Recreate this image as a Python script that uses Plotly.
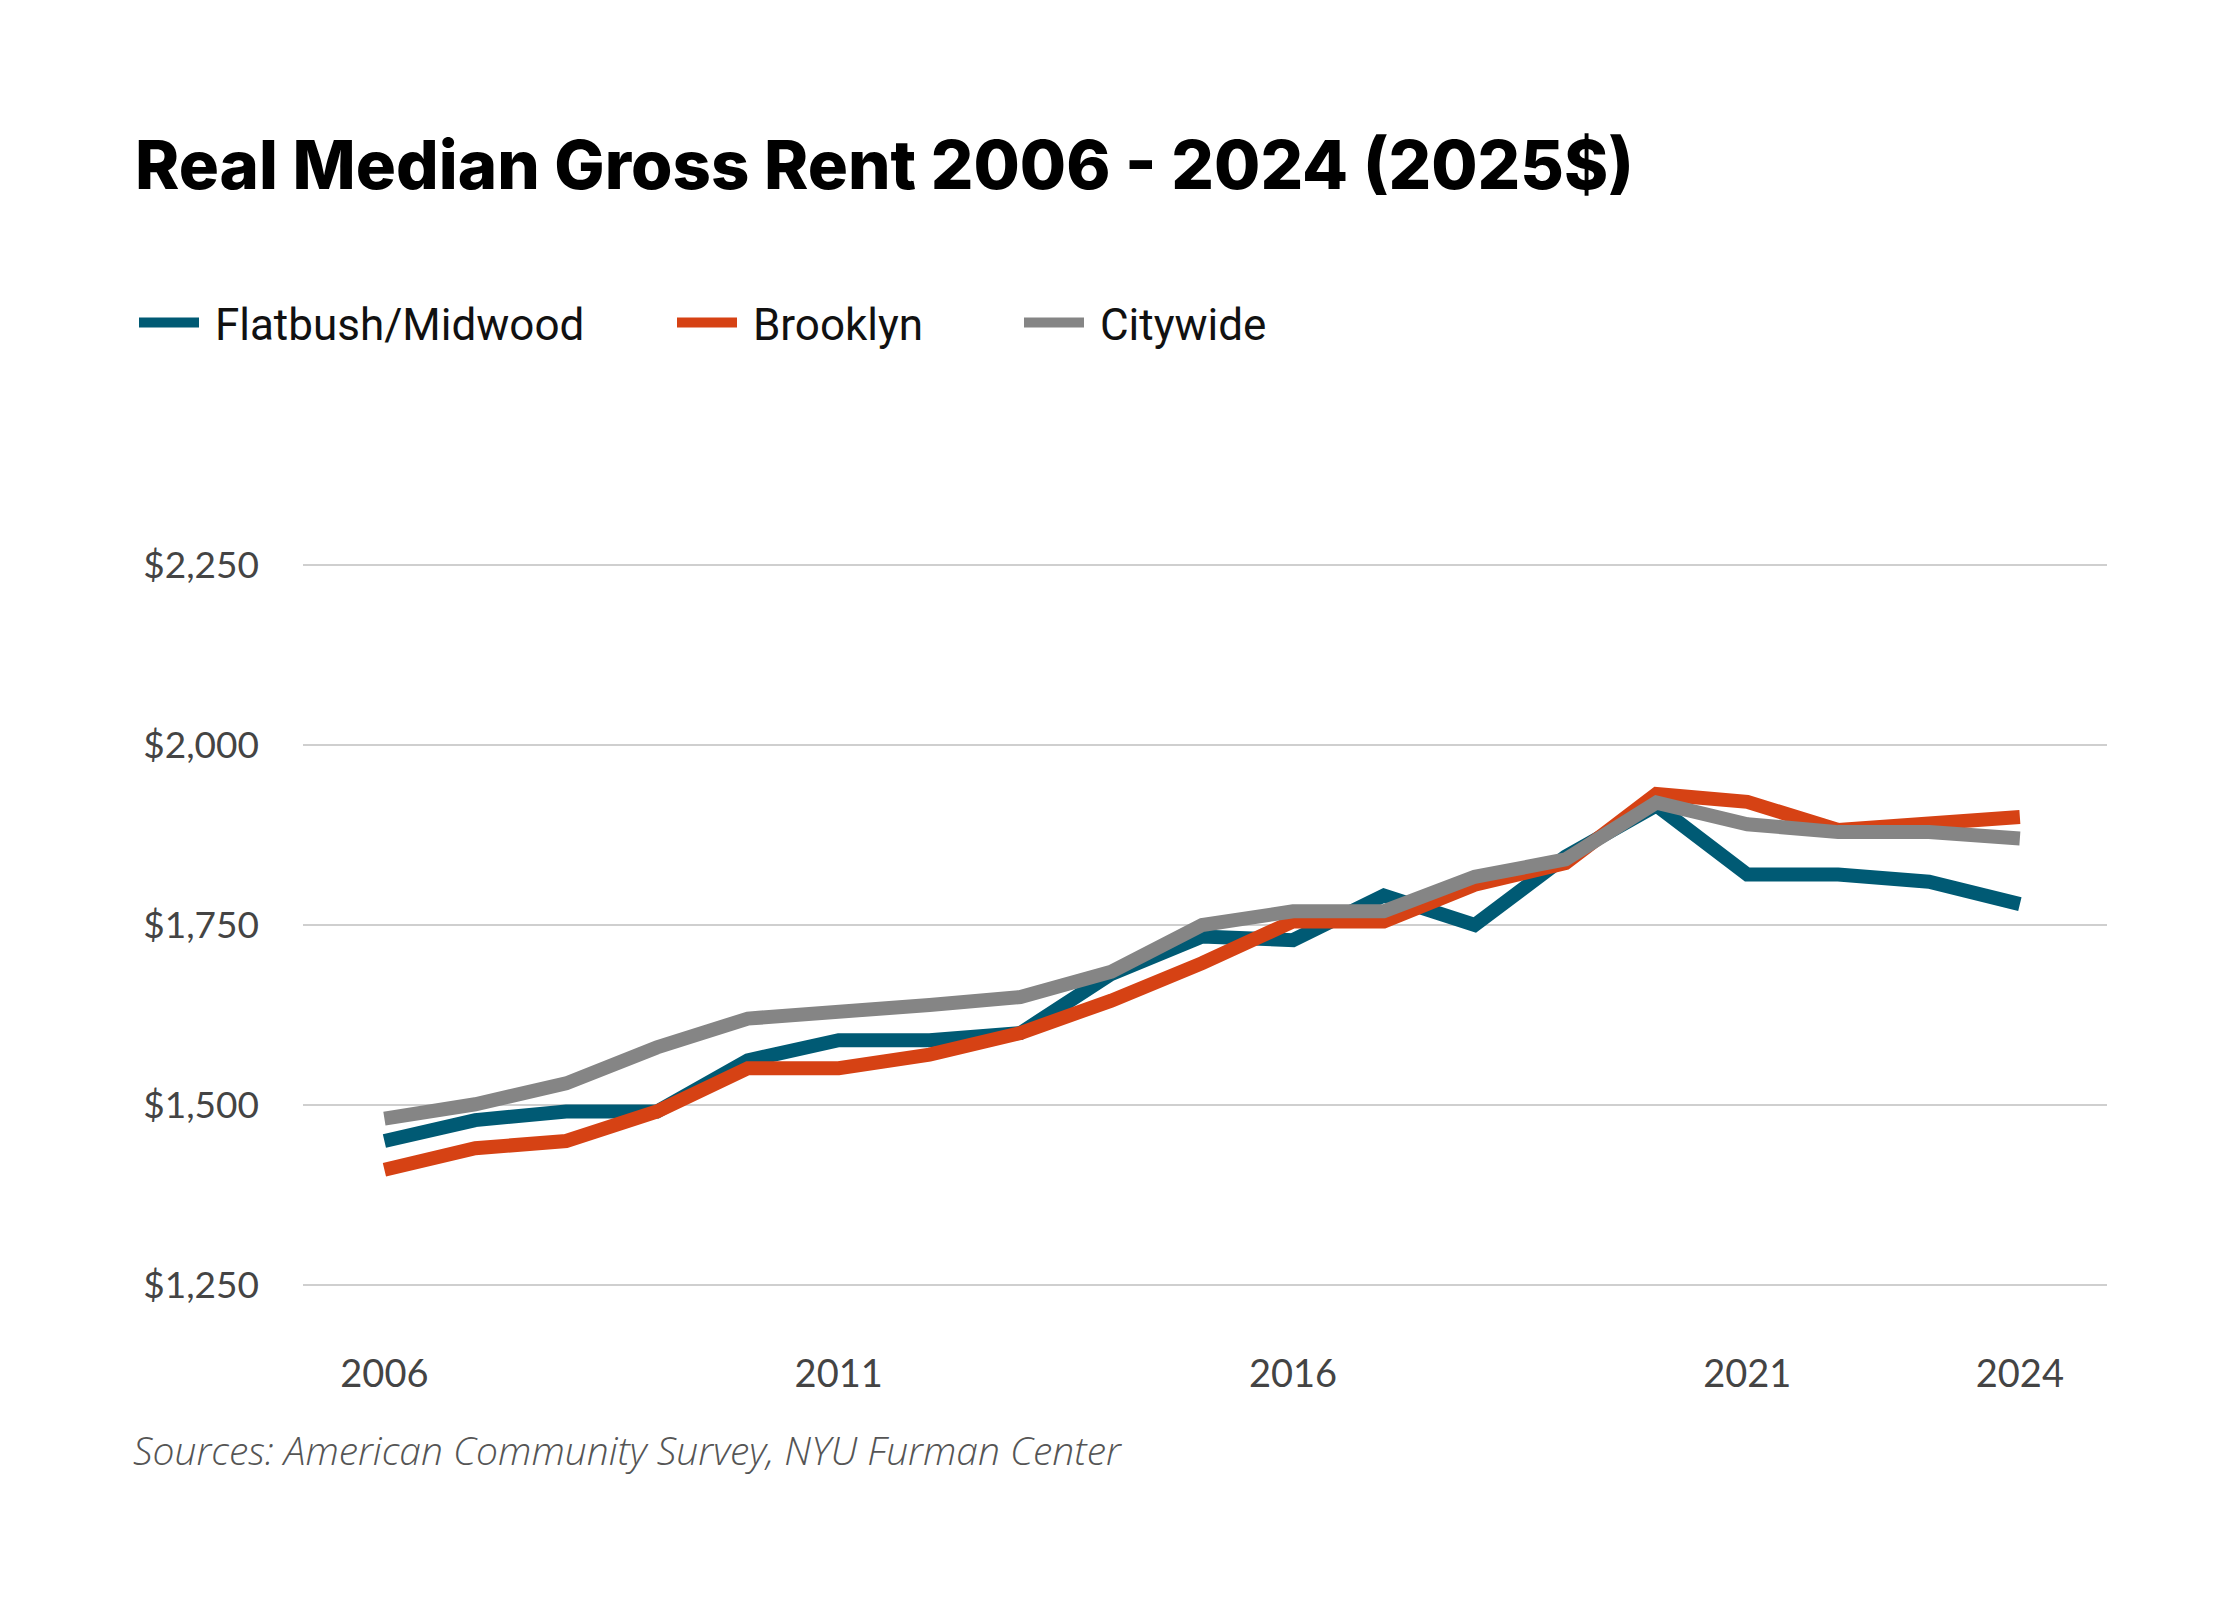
import plotly.graph_objects as go

years = list(range(2006, 2025))

flatbush = [1450, 1479, 1491, 1491, 1562, 1590, 1590, 1600, 1682, 1734, 1729, 1791, 1750,
            1845, 1916, 1820, 1820, 1810, 1779]
brooklyn = [1410, 1440, 1450, 1491, 1551, 1551, 1570, 1600, 1645, 1697, 1755, 1755, 1806,
            1836, 1932, 1921, 1882, 1892, 1900]
citywide = [1481, 1501, 1530, 1580, 1620, 1628, 1639, 1650, 1685, 1750, 1769, 1769, 1817,
            1841, 1920, 1890, 1879, 1879, 1870]

x_ticks = [2006, 2011, 2016, 2021, 2024]
y_ticks = [1250, 1500, 1750, 2000, 2250]
y_tick_text = ["$1,250", "$1,500", "$1,750", "$2,000", "$2,250"]

W, H = 2240, 1600
L, R, T, B = 295, 141, 521, 287
pw, ph = W - L - R, H - T - B

fig = go.Figure()

# each series gets its own legend box so the gaps can match the original
series = [
    ("Flatbush/Midwood", flatbush, "#005a74", "legend2", 126),
    ("Brooklyn", brooklyn, "#d64214", "legend3", 664),
    ("Citywide", citywide, "#858585", "legend4", 1011),
]
legends = {}
for name, vals, color, leg, lx in series:
    fig.add_trace(go.Scatter(x=years, y=vals, mode="lines", name="\u00a0" + name,
                             line=dict(color=color, width=14), legend=leg))
    legends[leg] = dict(orientation="h", xref="container", yref="container",
                        x=lx / W, xanchor="left", y=1 - 315 / H, yanchor="middle",
                        font=dict(family="Roboto", size=44, color="#111"),
                        itemwidth=60, bgcolor="rgba(0,0,0,0)")

fig.update_layout(
    width=W, height=H,
    paper_bgcolor="white", plot_bgcolor="white",
    margin=dict(l=L, r=R, t=T, b=B),
    title=dict(text="Real Median Gross Rent 2006 - 2024 (2025$)",
               x=127 / W, xanchor="left", xref="container",
               y=1 - 158 / H, yanchor="middle", yref="container",
               font=dict(family="Inter", size=67, weight=800, color="#000")),
    xaxis=dict(range=[2005.104, 2024.959], tickvals=x_ticks, showgrid=False,
               zeroline=False, showline=False, ticks="",
               tickfont=dict(family="Lato", size=38, color="#444"),
               ticklabelstandoff=27),
    yaxis=dict(range=[1200, 2300], tickvals=y_ticks, ticktext=y_tick_text,
               showgrid=True, gridcolor="#cfcfcf", gridwidth=2,
               zeroline=False, showline=False, ticks="",
               tickfont=dict(family="Lato", size=37, color="#444"),
               ticklabelstandoff=43),
    annotations=[dict(text="<i>Sources: American Community Survey, NYU Furman Center</i>",
                      xref="paper", yref="paper",
                      x=(123 - L) / pw, y=(H - B - 1441) / ph,
                      xanchor="left", yanchor="middle", showarrow=False,
                      font=dict(family="Open Sans", size=39, weight=300, color="#555"))],
    **legends,
)

fig.write_html("out.html")
